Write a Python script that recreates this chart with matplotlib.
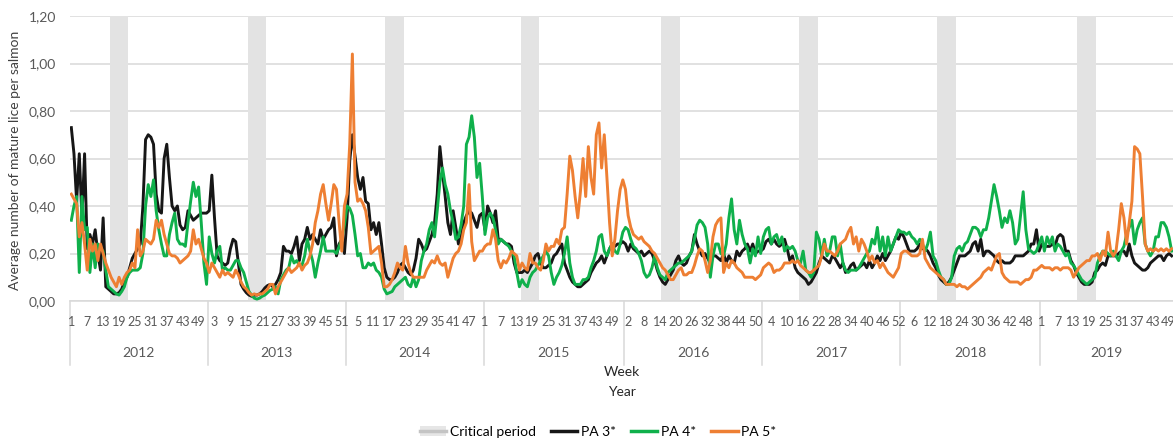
import numpy as np
import matplotlib
matplotlib.use("Agg")
import matplotlib.pyplot as plt
from matplotlib.patches import Patch
from matplotlib.lines import Line2D
import matplotlib.transforms as mtransforms

plt.rcParams["font.family"] = ["Lato", "DejaVu Sans"]

years = [2012, 2013, 2014, 2015, 2016, 2017, 2018, 2019]
weeks_per_year = [52, 52, 52, 53, 52, 52, 53, 50]
# critical period: first week number of the period in each year, length in weeks
crit_first_week = [16, 16, 16, 15, 15, 15, 15, 15]
crit_n_weeks = 7

# average number of mature lice per salmon, weekly, one line per year
pa3 = [
    0.73, 0.62, 0.42, 0.62, 0.35, 0.62, 0.22, 0.28, 0.24, 0.30, 0.20, 0.13, 0.35, 0.06, 0.05, 0.04, 0.03, 0.03, 0.035, 0.05, 0.08, 0.10, 0.14, 0.18, 0.20, 0.22, 0.24, 0.40, 0.68, 0.70, 0.69, 0.66, 0.45, 0.38, 0.37, 0.60, 0.66, 0.52, 0.40, 0.38, 0.40, 0.32, 0.30, 0.31, 0.38, 0.36, 0.34, 0.35, 0.36, 0.37, 0.37, 0.37,
    0.38, 0.53, 0.35, 0.19, 0.17, 0.16, 0.15, 0.16, 0.22, 0.26, 0.25, 0.16, 0.07, 0.05, 0.035, 0.025, 0.02, 0.025, 0.025, 0.03, 0.04, 0.055, 0.065, 0.07, 0.06, 0.07, 0.09, 0.12, 0.23, 0.21, 0.21, 0.20, 0.23, 0.27, 0.17, 0.24, 0.26, 0.31, 0.26, 0.28, 0.26, 0.24, 0.30, 0.26, 0.28, 0.30, 0.31, 0.35, 0.19, 0.24, 0.26, 0.20,
    0.35, 0.59, 0.70, 0.61, 0.52, 0.47, 0.52, 0.42, 0.41, 0.30, 0.33, 0.28, 0.33, 0.24, 0.14, 0.10, 0.09, 0.09, 0.10, 0.12, 0.15, 0.16, 0.14, 0.12, 0.11, 0.13, 0.18, 0.26, 0.24, 0.21, 0.22, 0.25, 0.28, 0.33, 0.45, 0.65, 0.54, 0.44, 0.33, 0.28, 0.38, 0.31, 0.24, 0.27, 0.33, 0.36, 0.38, 0.37, 0.34, 0.31, 0.36, 0.37,
    0.30, 0.40, 0.37, 0.33, 0.38, 0.26, 0.26, 0.25, 0.24, 0.24, 0.23, 0.16, 0.12, 0.12, 0.12, 0.13, 0.12, 0.14, 0.16, 0.19, 0.20, 0.16, 0.14, 0.14, 0.15, 0.16, 0.19, 0.20, 0.22, 0.24, 0.16, 0.13, 0.10, 0.08, 0.07, 0.06, 0.06, 0.07, 0.08, 0.09, 0.12, 0.14, 0.16, 0.17, 0.19, 0.16, 0.19, 0.22, 0.24, 0.23, 0.24, 0.24, 0.25,
    0.24, 0.21, 0.24, 0.22, 0.21, 0.20, 0.21, 0.19, 0.20, 0.21, 0.20, 0.17, 0.13, 0.10, 0.08, 0.07, 0.09, 0.11, 0.13, 0.17, 0.19, 0.16, 0.15, 0.16, 0.19, 0.21, 0.28, 0.24, 0.21, 0.19, 0.20, 0.18, 0.16, 0.19, 0.19, 0.18, 0.17, 0.20, 0.16, 0.19, 0.17, 0.16, 0.21, 0.19, 0.21, 0.22, 0.24, 0.21, 0.24, 0.20, 0.21, 0.21,
    0.22, 0.25, 0.26, 0.24, 0.26, 0.24, 0.23, 0.24, 0.26, 0.22, 0.17, 0.19, 0.14, 0.12, 0.11, 0.10, 0.09, 0.07, 0.08, 0.10, 0.12, 0.16, 0.19, 0.18, 0.17, 0.16, 0.19, 0.18, 0.16, 0.14, 0.16, 0.12, 0.13, 0.15, 0.16, 0.13, 0.14, 0.15, 0.16, 0.14, 0.17, 0.14, 0.16, 0.19, 0.17, 0.20, 0.17, 0.19, 0.21, 0.24, 0.27, 0.26,
    0.29, 0.27, 0.24, 0.21, 0.21, 0.21, 0.22, 0.24, 0.22, 0.22, 0.21, 0.19, 0.16, 0.14, 0.11, 0.09, 0.08, 0.07, 0.08, 0.10, 0.13, 0.16, 0.19, 0.19, 0.19, 0.20, 0.21, 0.24, 0.25, 0.21, 0.26, 0.19, 0.21, 0.21, 0.20, 0.19, 0.17, 0.16, 0.17, 0.16, 0.16, 0.16, 0.17, 0.19, 0.19, 0.19, 0.19, 0.20, 0.21, 0.24, 0.24, 0.30, 0.21,
    0.24, 0.23, 0.23, 0.23, 0.24, 0.23, 0.27, 0.28, 0.27, 0.21, 0.21, 0.17, 0.15, 0.12, 0.10, 0.08, 0.07, 0.07, 0.07, 0.08, 0.12, 0.13, 0.15, 0.16, 0.15, 0.19, 0.19, 0.19, 0.19, 0.20, 0.21, 0.21, 0.19, 0.24, 0.19, 0.16, 0.15, 0.14, 0.13, 0.13, 0.14, 0.16, 0.17, 0.18, 0.19, 0.19, 0.17, 0.19, 0.20, 0.19,
]
pa4 = [
    0.34, 0.40, 0.44, 0.12, 0.44, 0.30, 0.31, 0.12, 0.24, 0.14, 0.24, 0.22, 0.21, 0.13, 0.06, 0.05, 0.04, 0.03, 0.025, 0.04, 0.06, 0.10, 0.12, 0.13, 0.13, 0.13, 0.14, 0.20, 0.40, 0.49, 0.44, 0.51, 0.38, 0.30, 0.24, 0.19, 0.19, 0.28, 0.33, 0.37, 0.26, 0.24, 0.24, 0.23, 0.33, 0.42, 0.50, 0.44, 0.48, 0.33, 0.16, 0.07,
    0.27, 0.20, 0.16, 0.21, 0.23, 0.13, 0.14, 0.13, 0.13, 0.15, 0.17, 0.17, 0.14, 0.12, 0.08, 0.04, 0.025, 0.012, 0.008, 0.012, 0.02, 0.025, 0.035, 0.045, 0.05, 0.06, 0.03, 0.09, 0.11, 0.13, 0.14, 0.19, 0.16, 0.17, 0.15, 0.15, 0.19, 0.26, 0.21, 0.17, 0.10, 0.16, 0.21, 0.27, 0.21, 0.21, 0.21, 0.21, 0.20, 0.23, 0.26, 0.32,
    0.40, 0.39, 0.36, 0.28, 0.19, 0.20, 0.14, 0.14, 0.16, 0.15, 0.16, 0.13, 0.12, 0.10, 0.05, 0.03, 0.035, 0.04, 0.06, 0.07, 0.08, 0.09, 0.10, 0.07, 0.06, 0.10, 0.06, 0.09, 0.17, 0.21, 0.24, 0.30, 0.33, 0.27, 0.38, 0.50, 0.56, 0.49, 0.45, 0.38, 0.33, 0.26, 0.27, 0.32, 0.40, 0.66, 0.69, 0.78, 0.69, 0.52, 0.58, 0.44,
    0.28, 0.35, 0.37, 0.35, 0.30, 0.24, 0.26, 0.25, 0.24, 0.23, 0.21, 0.19, 0.12, 0.06, 0.09, 0.07, 0.06, 0.10, 0.12, 0.13, 0.15, 0.17, 0.19, 0.21, 0.19, 0.12, 0.07, 0.10, 0.12, 0.15, 0.20, 0.27, 0.16, 0.10, 0.07, 0.07, 0.07, 0.09, 0.09, 0.10, 0.14, 0.17, 0.21, 0.27, 0.28, 0.21, 0.19, 0.22, 0.24, 0.21, 0.20, 0.24, 0.29,
    0.31, 0.30, 0.26, 0.23, 0.22, 0.20, 0.17, 0.12, 0.10, 0.11, 0.14, 0.19, 0.14, 0.11, 0.10, 0.09, 0.12, 0.13, 0.14, 0.15, 0.16, 0.16, 0.17, 0.18, 0.19, 0.21, 0.26, 0.32, 0.34, 0.33, 0.31, 0.24, 0.10, 0.19, 0.24, 0.24, 0.20, 0.19, 0.24, 0.35, 0.43, 0.30, 0.24, 0.34, 0.28, 0.24, 0.22, 0.16, 0.22, 0.19, 0.27, 0.20,
    0.27, 0.30, 0.31, 0.24, 0.27, 0.28, 0.24, 0.27, 0.21, 0.23, 0.22, 0.23, 0.21, 0.17, 0.16, 0.21, 0.13, 0.12, 0.10, 0.12, 0.29, 0.26, 0.19, 0.26, 0.19, 0.21, 0.27, 0.27, 0.19, 0.24, 0.16, 0.13, 0.12, 0.13, 0.13, 0.13, 0.14, 0.16, 0.18, 0.20, 0.21, 0.26, 0.24, 0.31, 0.21, 0.27, 0.19, 0.27, 0.21, 0.24, 0.27, 0.30,
    0.29, 0.29, 0.28, 0.29, 0.27, 0.26, 0.24, 0.26, 0.24, 0.21, 0.24, 0.29, 0.19, 0.17, 0.13, 0.10, 0.09, 0.07, 0.07, 0.10, 0.19, 0.22, 0.23, 0.21, 0.24, 0.25, 0.28, 0.31, 0.31, 0.30, 0.27, 0.30, 0.30, 0.35, 0.42, 0.49, 0.44, 0.38, 0.31, 0.35, 0.33, 0.38, 0.33, 0.24, 0.26, 0.36, 0.46, 0.30, 0.22, 0.21, 0.20, 0.21, 0.24,
    0.27, 0.21, 0.27, 0.24, 0.27, 0.21, 0.24, 0.23, 0.21, 0.19, 0.20, 0.16, 0.15, 0.13, 0.11, 0.09, 0.08, 0.07, 0.08, 0.09, 0.10, 0.16, 0.19, 0.21, 0.21, 0.20, 0.19, 0.21, 0.19, 0.17, 0.21, 0.23, 0.28, 0.31, 0.34, 0.24, 0.30, 0.33, 0.35, 0.24, 0.21, 0.19, 0.21, 0.27, 0.27, 0.33, 0.33, 0.31, 0.27, 0.21,
]
pa5 = [
    0.45, 0.43, 0.41, 0.27, 0.33, 0.24, 0.13, 0.26, 0.21, 0.24, 0.17, 0.24, 0.20, 0.16, 0.13, 0.10, 0.08, 0.06, 0.10, 0.07, 0.10, 0.12, 0.13, 0.16, 0.14, 0.30, 0.19, 0.21, 0.26, 0.25, 0.24, 0.26, 0.34, 0.31, 0.34, 0.28, 0.24, 0.20, 0.19, 0.19, 0.18, 0.16, 0.17, 0.18, 0.19, 0.21, 0.30, 0.24, 0.26, 0.22, 0.18, 0.16,
    0.12, 0.16, 0.14, 0.12, 0.10, 0.13, 0.11, 0.12, 0.11, 0.10, 0.13, 0.11, 0.08, 0.06, 0.05, 0.035, 0.025, 0.03, 0.025, 0.03, 0.03, 0.04, 0.05, 0.07, 0.07, 0.03, 0.06, 0.08, 0.10, 0.12, 0.14, 0.12, 0.13, 0.14, 0.16, 0.13, 0.15, 0.16, 0.19, 0.24, 0.33, 0.38, 0.45, 0.49, 0.41, 0.34, 0.41, 0.49, 0.47, 0.33, 0.21, 0.40,
    0.45, 0.66, 1.04, 0.50, 0.42, 0.43, 0.41, 0.38, 0.31, 0.20, 0.21, 0.22, 0.23, 0.16, 0.06, 0.06, 0.07, 0.09, 0.12, 0.16, 0.14, 0.13, 0.23, 0.16, 0.12, 0.10, 0.10, 0.10, 0.10, 0.10, 0.13, 0.15, 0.17, 0.16, 0.19, 0.16, 0.15, 0.16, 0.10, 0.14, 0.18, 0.20, 0.21, 0.24, 0.30, 0.33, 0.49, 0.25, 0.17, 0.19, 0.21, 0.21,
    0.23, 0.24, 0.24, 0.30, 0.26, 0.17, 0.14, 0.17, 0.16, 0.18, 0.21, 0.20, 0.19, 0.13, 0.16, 0.14, 0.13, 0.20, 0.16, 0.16, 0.14, 0.13, 0.17, 0.24, 0.21, 0.23, 0.23, 0.26, 0.24, 0.30, 0.31, 0.45, 0.61, 0.55, 0.44, 0.35, 0.46, 0.60, 0.44, 0.65, 0.52, 0.45, 0.70, 0.75, 0.56, 0.70, 0.52, 0.33, 0.19, 0.26, 0.38, 0.47, 0.51,
    0.47, 0.36, 0.31, 0.28, 0.27, 0.26, 0.27, 0.25, 0.24, 0.23, 0.21, 0.20, 0.18, 0.16, 0.14, 0.13, 0.11, 0.09, 0.09, 0.11, 0.13, 0.14, 0.11, 0.11, 0.12, 0.12, 0.15, 0.19, 0.22, 0.21, 0.17, 0.12, 0.17, 0.27, 0.32, 0.34, 0.35, 0.12, 0.16, 0.14, 0.17, 0.16, 0.14, 0.13, 0.12, 0.10, 0.10, 0.10, 0.10, 0.09, 0.10, 0.11,
    0.14, 0.15, 0.16, 0.15, 0.12, 0.13, 0.13, 0.14, 0.16, 0.16, 0.16, 0.17, 0.16, 0.17, 0.15, 0.14, 0.13, 0.12, 0.12, 0.13, 0.14, 0.15, 0.19, 0.24, 0.21, 0.21, 0.20, 0.19, 0.21, 0.24, 0.25, 0.26, 0.29, 0.31, 0.24, 0.27, 0.21, 0.26, 0.24, 0.21, 0.17, 0.19, 0.16, 0.17, 0.14, 0.16, 0.14, 0.12, 0.11, 0.10, 0.12, 0.14,
    0.20, 0.21, 0.21, 0.20, 0.19, 0.19, 0.19, 0.20, 0.26, 0.18, 0.16, 0.14, 0.13, 0.12, 0.11, 0.10, 0.09, 0.07, 0.07, 0.07, 0.07, 0.06, 0.07, 0.06, 0.06, 0.05, 0.06, 0.07, 0.08, 0.09, 0.10, 0.12, 0.13, 0.14, 0.13, 0.16, 0.19, 0.20, 0.12, 0.10, 0.09, 0.08, 0.08, 0.08, 0.08, 0.07, 0.08, 0.09, 0.09, 0.10, 0.13, 0.13, 0.14,
    0.15, 0.14, 0.14, 0.14, 0.13, 0.14, 0.14, 0.13, 0.14, 0.14, 0.14, 0.13, 0.10, 0.12, 0.14, 0.15, 0.16, 0.17, 0.17, 0.19, 0.19, 0.20, 0.17, 0.21, 0.19, 0.29, 0.21, 0.19, 0.21, 0.30, 0.41, 0.35, 0.24, 0.33, 0.42, 0.65, 0.64, 0.62, 0.44, 0.24, 0.21, 0.22, 0.21, 0.22, 0.21, 0.22, 0.21, 0.22, 0.21, 0.22,
]

n = sum(weeks_per_year)
assert len(pa3) == n and len(pa4) == n and len(pa5) == n
x = np.arange(n)
year_start = np.concatenate([[0], np.cumsum(weeks_per_year)[:-1]])
week_no = np.concatenate([np.arange(1, w + 1) for w in weeks_per_year])

W, H = 1173, 441
fig = plt.figure(figsize=(W / 100, H / 100), dpi=100)
ax = fig.add_axes([70 / W, 140 / H, 1103 / W, 285 / H])

# critical period bars
crit_x = [s + f - 1 + k for s, f in zip(year_start, crit_first_week) for k in range(crit_n_weeks)]
ax.bar(crit_x, 1.2, width=1.05, color="#e3e3e3", zorder=1)

ax.plot(x, pa3, color="#161616", lw=2.1, zorder=3)
ax.plot(x, pa4, color="#0fb04b", lw=2.1, zorder=3)
ax.plot(x, pa5, color="#ee7f33", lw=2.1, zorder=3)

ax.set_xlim(-0.5, n - 0.5)
ax.set_ylim(0, 1.2)
ax.set_yticks(np.arange(0, 1.21, 0.2))
ax.set_yticklabels([("%.2f" % v).replace(".", ",") for v in np.arange(0, 1.21, 0.2)])
ax.yaxis.grid(True, color="#d9d9d9", lw=1.1)
ax.set_axisbelow(True)
ax.tick_params(axis="y", length=0, pad=10, labelsize=10, labelcolor="#595959")
ax.set_xticks([])
for s in ["top", "right", "left"]:
    ax.spines[s].set_visible(False)
ax.spines["bottom"].set_color("#d9d9d9")
ax.spines["bottom"].set_linewidth(1.1)

# two level category axis
tr = mtransforms.blended_transform_factory(ax.transData, ax.transAxes)
prev = None
for g in range(0, n, 6):
    if g > n - 4 and prev is not None:
        # last label: put it right after the previous one so it stays inside the figure
        ax.annotate(str(week_no[g]), xy=(1, 0.5), xycoords=prev, ha="left", va="center",
                    fontsize=9, color="#595959", annotation_clip=False)
    else:
        prev = ax.text(g, -0.073, str(week_no[g]), transform=tr, ha="center", va="center",
                       fontsize=9, color="#595959")
for s, w, yr in zip(year_start, weeks_per_year, years):
    ax.text(s + w / 2 - 0.5, -0.182, str(yr), transform=tr, ha="center", va="center",
            fontsize=10, color="#595959")
    ax.plot([s - 0.5, s - 0.5], [0, -0.225], transform=tr, color="#d9d9d9", lw=1.1, clip_on=False)

fig.text(15 / W, 1 - 160 / H, "Average number of mature lice per salmon", rotation=90,
         ha="center", va="center", fontsize=10, color="#404040")
fig.text(622 / W, 1 - 372 / H, "Week", ha="center", va="center", fontsize=10, color="#262626")
fig.text(622 / W, 1 - 392 / H, "Year", ha="center", va="center", fontsize=10, color="#262626")

handles = [
    (Patch(facecolor="#e6e6e6", edgecolor="none"), Line2D([], [], color="#c4c4c4", lw=2.5)),
    Line2D([], [], color="#161616", lw=2.5),
    Line2D([], [], color="#0fb04b", lw=2.5),
    Line2D([], [], color="#ee7f33", lw=2.5),
]
labels = ["Critical period", "PA 3*", "PA 4*", "PA 5*"]
fig.legend(handles, labels, loc="center", bbox_to_anchor=(598 / W, 1 - 432 / H), ncol=4,
           frameon=False, fontsize=10, handlelength=1.9, handletextpad=0.25, columnspacing=1.1)

fig.savefig("out.png", dpi=100)
